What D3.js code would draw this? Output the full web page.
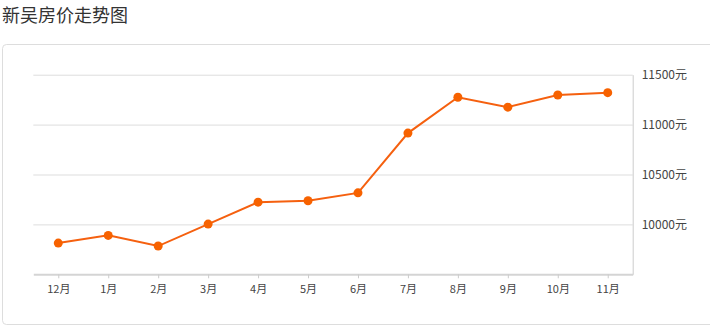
<!DOCTYPE html>
<html>
<head>
<meta charset="utf-8">
<script src="https://cdn.jsdelivr.net/npm/d3@7"></script>
<style>
  body { margin:0; background:#fff; font-family:"Noto Sans CJK SC","Noto Sans",sans-serif; }
</style>
</head>
<body>
<div id="chart"></div>
<script>
let months = ['12月','1月','2月','3月','4月','5月','6月','7月','8月','9月','10月','11月'],
    prices = [9813,9890,9783,10003,10223,10237,10316,10915,11274,11175,11297,11320],
    yTicks = [10000,10500,11000,11500],
    yMin = 9500, yMax = 11500

let margin = {top:74.7,left:33.3},
    width = 599.4,
    height = 199.6

let svg = d3.select('#chart').append('svg')
  .attr('width',710)
  .attr('height',327)

// title
svg.append('text')
  .attr('x',2)
  .attr('y',22)
  .attr('font-size','18px')
  .attr('fill','#333')
  .text('新吴房价走势图')

// card border
svg.append('rect')
  .attr('x',2.5).attr('y',44.5)
  .attr('width',720).attr('height',280)
  .attr('rx',4)
  .attr('fill','none')
  .attr('stroke','#ddd')

let g = svg.append('g')
  .attr('transform','translate(' + margin.left + ',' + margin.top + ')')

let xScale = d3.scalePoint()
  .domain(months)
  .range([0,width])
  .padding(0.5)

let yScale = d3.scaleLinear()
  .domain([yMin,yMax])
  .range([height,0])

// grid lines
let grid = g.append('g')
  .call(d3.axisLeft(yScale).tickValues(yTicks).tickSize(-width).tickFormat(''))
grid.select('.domain').remove()
grid.selectAll('line').attr('stroke','#ddd')

// right y labels
let yAxis = g.append('g')
  .attr('transform','translate(' + width + ',0)')
  .call(d3.axisRight(yScale).tickValues(yTicks).tickSize(0).tickPadding(9).tickFormat(d => d + '元'))
yAxis.select('.domain').attr('stroke','#ccc')
yAxis.selectAll('text')
  .attr('font-family','"Noto Sans CJK SC","Noto Sans",sans-serif')
  .attr('font-size','12px')
  .attr('fill','#444')

// bottom axis
let xAxis = g.append('g')
  .attr('transform','translate(0,' + height + ')')
  .call(d3.axisBottom(xScale).tickSize(4).tickSizeOuter(0).tickPadding(7))
xAxis.select('.domain').attr('stroke','#d4d4d4').attr('stroke-width',2)
xAxis.selectAll('line').attr('stroke','#ccc')
xAxis.selectAll('text')
  .attr('font-family','"Noto Sans CJK SC","Noto Sans",sans-serif')
  .attr('font-size','11px')
  .attr('fill','#444')

// line
let line = d3.line()
  .x((d,i) => xScale(months[i]))
  .y(d => yScale(d))

g.append('path')
  .datum(prices)
  .attr('d',line)
  .attr('fill','none')
  .attr('stroke','#f5600f')
  .attr('stroke-width',2)

g.selectAll('circle').data(prices)
  .enter().append('circle')
  .attr('cx',(d,i) => xScale(months[i]))
  .attr('cy',d => yScale(d))
  .attr('r',4.5)
  .attr('fill','#f76200')
</script>
</body>
</html>
